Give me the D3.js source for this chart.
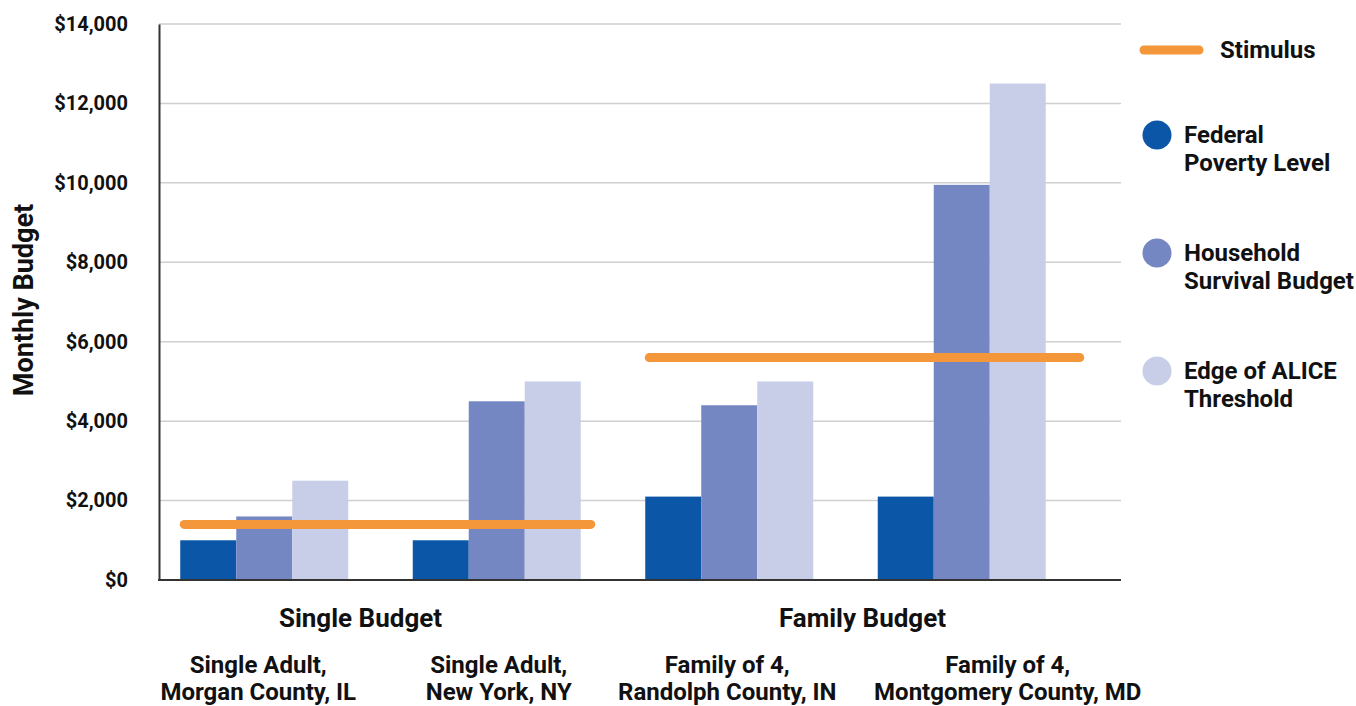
<!DOCTYPE html>
<html>
<head>
<meta charset="utf-8">
<title>Monthly Budget</title>
<script src="https://d3js.org/d3.v7.min.js"></script>
<style>
  body { margin: 0; background: #fff; }
  text { font-family: Roboto, "Noto Sans", sans-serif; font-weight: bold; fill: #111; }
</style>
</head>
<body>
<div id="chart"></div>
<script>
// data
var groups = ["Morgan", "NewYork", "Randolph", "Montgomery"];
var groupLabels = [
  ["Single Adult,", "Morgan County, IL"],
  ["Single Adult,", "New York, NY"],
  ["Family of 4,", "Randolph County, IN"],
  ["Family of 4,", "Montgomery County, MD"]
];
var seriesNames = ["Federal Poverty Level", "Household Survival Budget", "Edge of ALICE Threshold"];
var povertyLevel = [1000, 1000, 2100, 2100];
var survivalBudget = [1600, 4500, 4400, 9950];
var aliceThreshold = [2500, 5000, 5000, 12500];
var budgetTypes = ["Single Budget", "Family Budget"];
var stimulus = [1400, 5600];
var stimulusGroups = [["Morgan", "NewYork"], ["Randolph", "Montgomery"]];
var yTicks = [0, 2000, 4000, 6000, 8000, 10000, 12000, 14000];

var colors = ["#0B56A6", "#7587C3", "#C8CEE8"];
var orange = "#F4963A";

var W = 1356, H = 706;
var margin = { top: 24, left: 159, right: 235, bottom: 126 };

var svg = d3.select("#chart").append("svg")
  .attr("width", W).attr("height", H);

var y = d3.scaleLinear()
  .domain([0, 14000])
  .range([H - margin.bottom, margin.top]);

var x0 = d3.scaleBand()
  .domain(groups)
  .range([148, 1078]);

var x1 = d3.scaleBand()
  .domain(seriesNames)
  .range([0, 168]);

// gridlines
svg.append("g")
  .selectAll("line")
  .data(yTicks.slice(1))
  .enter().append("line")
  .attr("x1", margin.left).attr("x2", W - margin.right)
  .attr("y1", function (d) { return y(d); })
  .attr("y2", function (d) { return y(d); })
  .attr("stroke", "#cfcfcf").attr("stroke-width", 1.5);

// y axis
var yAxis = svg.append("g")
  .attr("transform", "translate(" + margin.left + ",0)")
  .call(d3.axisLeft(y).tickValues(yTicks).tickSize(0).tickPadding(31)
    .tickFormat(function (d) { return "$" + d3.format(",")(d); }));
yAxis.select(".domain").attr("stroke", "#333").attr("stroke-width", 2);
yAxis.selectAll("text")
  .style("font-size", "20px").style("font-family", "Roboto").style("font-weight", "bold").attr("fill", "#111");

svg.append("text")
  .attr("transform", "translate(33,300) rotate(-90)")
  .attr("text-anchor", "middle")
  .style("font-size", "27px")
  .text("Monthly Budget");

// bars
var series = [povertyLevel, survivalBudget, aliceThreshold];
var gBars = svg.append("g");
groups.forEach(function (g, i) {
  var start = x0(g) + (x0.bandwidth() - x1.range()[1]) / 2;
  series.forEach(function (vals, s) {
    gBars.append("rect")
      .attr("x", start + x1(seriesNames[s]))
      .attr("width", x1.bandwidth())
      .attr("y", y(vals[i]))
      .attr("height", y(0) - y(vals[i]))
      .attr("fill", colors[s]);
  });
});

// x axis line
svg.append("line")
  .attr("x1", margin.left - 1).attr("x2", W - margin.right)
  .attr("y1", y(0)).attr("y2", y(0))
  .attr("stroke", "#333").attr("stroke-width", 2);

// stimulus lines
var ext = [14, 38];
stimulusGroups.forEach(function (pair, i) {
  var left = x0(pair[0]) + (x0.bandwidth() - 168) / 2;
  var right = x0(pair[1]) + (x0.bandwidth() + 168) / 2 + ext[i];
  svg.append("line")
    .attr("x1", left + 4).attr("x2", right - 4)
    .attr("y1", y(stimulus[i])).attr("y2", y(stimulus[i]))
    .attr("stroke", orange).attr("stroke-width", 9)
    .attr("stroke-linecap", "round");
});

// budget type labels
var typeOffset = [-20, 17];
budgetTypes.forEach(function (t, i) {
  var pair = stimulusGroups[i];
  var cx = (x0(pair[0]) + x0(pair[1])) / 2 + x0.bandwidth() / 2 + typeOffset[i];
  svg.append("text")
    .attr("x", cx).attr("y", 627)
    .attr("text-anchor", "middle")
    .style("font-size", "26px")
    .text(t);
});

// category labels
var labelOffset = [-6, 2, -2, 46];
groups.forEach(function (g, i) {
  var cx = x0(g) + x0.bandwidth() / 2 + labelOffset[i];
  var t = svg.append("text")
    .attr("x", cx)
    .attr("y", 673)
    .attr("text-anchor", "middle")
    .style("font-size", "24px");
  groupLabels[i].forEach(function (line, k) {
    t.append("tspan")
      .attr("x", cx)
      .attr("dy", k === 0 ? 0 : 27)
      .text(line);
  });
});

// legend
var lg = svg.append("g");
lg.append("line")
  .attr("x1", 1144).attr("x2", 1199).attr("y1", 50).attr("y2", 50)
  .attr("stroke", orange).attr("stroke-width", 9).attr("stroke-linecap", "round");
lg.append("text").attr("x", 1220).attr("y", 58).style("font-size", "24px").text("Stimulus");

var legendLines = [["Federal", "Poverty Level"], ["Household", "Survival Budget"], ["Edge of ALICE", "Threshold"]];
legendLines.forEach(function (lines, i) {
  var cy = 135 + i * 118;
  lg.append("circle").attr("cx", 1157).attr("cy", cy).attr("r", 14.5).attr("fill", colors[i]);
  var t = lg.append("text").attr("x", 1184).attr("y", cy + 8).style("font-size", "24px");
  lines.forEach(function (l, k) {
    t.append("tspan").attr("x", 1184).attr("dy", k === 0 ? 0 : 28).text(l);
  });
});
</script>
</body>
</html>
